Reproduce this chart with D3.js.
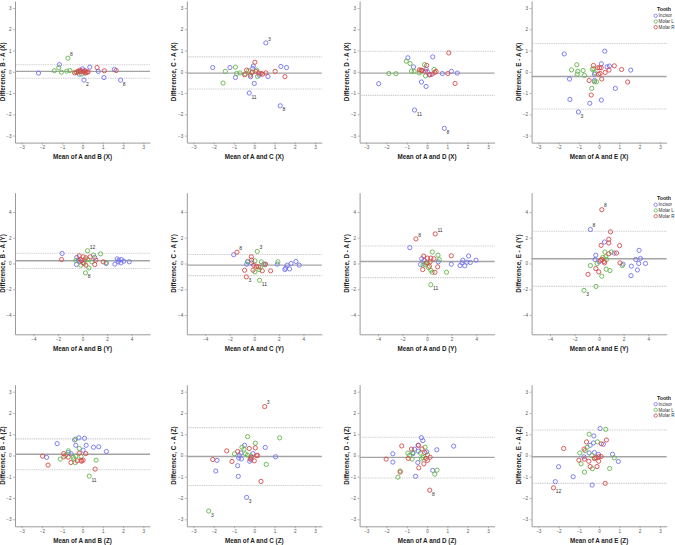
<!DOCTYPE html>
<html><head><meta charset="utf-8">
<script src="https://cdn.jsdelivr.net/npm/d3@7"></script>
<style>body{margin:0;background:#fff}svg{display:block}</style>
</head><body><svg id="c" width="675" height="545"></svg>
<script>
// ---------- DATA ----------
const seriesNames = ["Incisor", "Molar L", "Molar R"];
const ticksSmall = [-3, -2, -1, 0, 1, 2, 3];
const ticksLarge = [-4, -2, 0, 2, 4];

// B - A (X)
const bX_inc = [[-2.17,-0.06],[-1.14,0.34],[0.36,0.22],[0,0.14],[0.07,-0.39,"2"],[-0.16,-0.11],[0.78,0.02],[1.06,-0.27],[1.57,0.11],[1.88,-0.39,"8"],[-0.06,0.05],[0.1,0.04]];
const bX_molL = [[-0.72,0.64,"8"],[-1.17,0.2],[-1.39,0.05],[-1.04,-0.02],[-0.78,0.03],[-0.62,0.06],[-0.33,-0.02],[-0.05,-0.11],[-0.22,0.02],[0.12,-0.06]];
const bX_molR = [[-0.39,-0.05],[-0.13,0.08],[0.03,0],[0.16,-0.05],[0.28,0],[0.72,0.2],[1.08,0.05],[1.66,0.06],[-0.2,0.03],[-0.1,0.01],[0.12,0.05],[-0.28,-0.03],[0.22,-0.02]];
const bX_stats = [0.02, 0.33, -0.3];

// C - A (X)
const cX_inc = [[-2.05,0.2],[-1.2,0.2],[-0.93,-0.27],[0.57,1.36,"3"],[1.31,0.25],[1.59,0.2],[-0.25,-1.0,"11"],[0,-0.55],[1.28,-1.6,"8"],[0.67,-0.22],[-0.08,0.16],[-0.05,0.27],[-0.18,-0.23],[0.25,-0.16]];
const cX_molL = [[-1.43,0.02],[-1.54,-0.53],[-0.93,0.22],[-0.87,-0.08],[-0.7,-0.05],[-0.28,0.05],[-0.14,-0.05],[0.11,0.08],[0.16,-0.22],[-0.44,-0.1]];
const cX_molR = [[0.03,0.45],[-0.38,0.08],[-0.48,-0.14],[-0.2,-0.16],[0.08,0.02],[0.33,-0.08],[0.57,-0.05],[1.03,0.02],[1.51,-0.23],[0.21,-0.05],[0.41,-0.11],[-0.1,-0.02]];
const cX_stats = [-0.06, 0.7, -0.81];

// D - A (X)
const dX_inc = [[-2.39,-0.56],[-0.95,0.66],[-0.67,0.23],[-0.28,-0.48],[-0.05,-0.69],[-0.62,-1.8,"11"],[0.28,0.7],[0.85,-2.66,"8"],[0.75,-0.08],[1.2,0.02],[1.49,-0.06],[-0.05,0.13],[0.02,0],[0.15,-0.14]];
const dX_molL = [[-1.89,-0.08],[-1.54,-0.09],[-1.03,0.5],[-0.84,0.39],[-0.77,0.03],[-0.64,0.02],[-0.39,-0.05],[-0.13,0.34],[-0.08,-0.19],[0.34,0.11],[-0.26,0.05]];
const dX_molR = [[1.07,0.89],[1.02,-0.08],[1.38,-0.55],[-0.38,0.09],[-0.25,0.06],[-0.08,0.02],[-0.02,0.3],[0.11,-0.14],[0.25,-0.11],[0.44,0.02],[0.38,-0.03],[-0.3,0.08]];
const dX_stats = [-0.06, 0.97, -1.11];

// E - A (X)
const eX_inc = [[-1.72,0.84],[-1.46,-0.34],[-1.44,-1.3],[-1.02,-1.89,"3"],[-0.46,-1.48],[-0.23,-0.41],[-0.23,-0.11],[0.11,-1.33],[0.28,0.97],[0.11,0.38],[0.39,0.23],[0.51,0.27],[0.8,-0.78],[1.56,0.08]];
const eX_molL = [[-1.1,0.33],[-1.36,0.09],[-1.05,0.02],[-1.08,-0.11],[-0.79,0.06],[-0.72,-0.17],[-0.33,0.11],[-0.36,-0.78],[-0.2,-0.05],[-0.13,-0.47],[-0.23,-0.47],[-0.26,0.14]];
const eX_molR = [[-0.49,-0.41],[-0.39,-1.09],[-0.28,0.3],[-0.07,0.19],[0.02,0.19],[0.1,0.19],[0.05,-0.08],[0.13,-0.34],[0.3,-0.03],[0.49,0.08],[0.75,0.28],[1.11,0.11],[1.41,-0.48],[-0.03,-0.11]];
const eX_stats = [-0.22, 1.33, -1.75];

// B - A (Y)
const bY_inc = [[-1.66,0.78],[-0.46,0.47],[-0.33,0.26],[-0.49,-0.08],[1.0,0.47],[1.93,0],[2.64,-0.05],[2.83,0.36],[2.91,0.13],[3.16,0.31],[3.13,0.05],[3.37,0.18],[3.81,0.13],[2.97,0.26],[-0.22,0.13]];
const bY_molL = [[0.41,0.99,"12"],[0.9,0.65],[1.47,0.75],[0.76,0.13],[0.24,-0.73,"8"],[0.52,-0.34],[-0.54,0.23],[-0.14,-0.13],[0.13,0.0],[1.93,0.08],[0.19,0.26],[0.41,0.31]];
const bY_molR = [[-1.71,0.31],[-0.27,0.6],[0.05,0.52],[0.27,0.44],[0.63,0.52],[1.09,0.26],[1.0,-0.08],[1.69,0.13],[-0.16,0.31],[0.05,0.05],[0.27,-0.13],[-0.08,0.21]];
const bY_stats = [0.21, 0.8, -0.39];

// C - A (Y)
const cY_inc = [[-1.68,0.68],[-0.62,-0.05],[-0.22,0.05],[0.76,-0.05],[1.87,-0.05],[2.55,-0.36],[2.68,-0.13],[2.87,-0.42],[3.0,0],[3.39,0.16],[3.66,-0.13],[2.49,-0.47],[-0.54,0.13]];
const cY_molL = [[0.24,0.94,"3"],[-0.54,0.16],[0.05,0.21],[0.57,0.13],[1.92,0.13],[0.38,-0.47],[0.49,-0.31],[0.05,-0.65],[0.43,-1.3,"11"],[0.87,-0.1]];
const cY_molR = [[-1.41,0.88,"8"],[-0.24,0.52],[-0.79,-0.52],[-0.65,-1.04,"3"],[-0.11,-0.52],[0.16,-0.21],[0.33,-0.26],[0.65,-0.57],[1.33,-0.57],[0.92,-0.05],[-0.05,-0.13],[-0.22,0.26]];
const cY_stats = [-0.13, 0.7, -0.94];

// D - A (Y)
const dY_inc = [[-1.41,1.23],[-0.44,0.37],[-0.53,-0.08],[-0.25,0.24],[0.91,0.13],[1.97,-0.05],[2.69,-0.16],[2.91,0.26],[3.07,-0.18],[3.24,0.1],[3.38,0.58],[3.52,0.08],[3.99,0.26],[2.85,0.05]];
const dY_molL = [[0.42,0.89],[0.89,0.65],[1.0,0.31],[0.3,-0.52],[0.42,-0.68],[1.58,-0.68],[0.3,-1.65,"11"],[-0.14,-0.1],[0.03,0.05],[0.11,-0.31],[-0.33,-0.13]];
const dY_molR = [[-0.91,1.91,"8"],[0.66,2.3,"11"],[-0.28,0.58],[0.03,0.42],[0.3,0.42],[0.55,0.37],[1.97,0.6],[0.86,-0.26],[-0.36,-0.47],[0.19,-0.21],[0.64,-0.68],[-0.08,0.05],[0.25,0.13]];
const dY_stats = [0.16, 1.36, -1.1];

// E - A (Y)
const eY_inc = [[-0.71,2.64,"8"],[-0.27,0.65],[-0.33,0.31],[0.44,1.67],[1.23,0.81],[1.95,-0.05],[2.63,-0.21],[2.6,-0.94],[2.99,0.31],[3.12,-0.5],[3.23,0],[3.26,1.02],[3.37,0.39],[3.78,0],[0,0.13]];
const eY_molL = [[-1.23,-2.09,"3"],[-0.25,-1.78],[0.22,-0.99],[-0.71,-0.16],[-0.16,0],[0.3,0.47],[0.47,0.89],[0.6,0.31],[0.58,-0.44],[0.88,-0.55],[0.99,0.89],[1.89,-0.16],[0.55,0.52]];
const eY_molR = [[0.22,4.18,"8"],[0.93,2.46],[0.79,1.88],[0.79,1.59],[0.16,1.41],[1.67,1.39],[1.42,0.81],[0.79,0.76],[-0.9,-0.84],[-0.27,-0.39],[-0.03,-0.65],[0.11,0.24],[0.41,0.16],[0.44,0.05],[1.7,0.05],[0.22,0.31]];
const eY_stats = [0.37, 2.51, -1.78];

// B - A (Z)
const bZ_inc = [[-1.25,0.56],[-1.77,-0.09],[-0.39,0.73],[-0.18,0.83],[0.1,0.81],[-0.33,0.48],[0.18,0.48],[0.03,0.25],[0.54,0.39],[0.8,0.41],[1.18,0.19],[-0.56,0.08],[-0.7,0.14]];
const bZ_molL = [[-0.34,0.77],[-0.7,0.22],[-1.1,-0.17],[-0.16,0.33],[-0.46,-0.08],[-0.33,-0.03],[-0.43,-0.16],[-0.36,-0.33],[-0.07,-0.05],[0.67,-0.22],[0.33,-0.97,"11"],[-0.83,0]];
const bZ_molR = [[-1.97,-0.03],[-1.7,-0.45],[-0.93,0.09],[-0.92,-0.06],[-0.7,-0.08],[-0.57,-0.33],[-0.26,-0.25],[-0.16,0.11],[-0.07,-0.22],[0.03,-0.22],[0.16,0.09],[0.62,-0.64],[-0.05,-0.27]];
const bZ_stats = [0.06, 0.78, -0.67];

// C - A (Z)
const cZ_inc = [[-1.84,-0.23],[-1.9,-0.73],[-0.82,-0.48],[-0.79,-0.98],[-0.48,0.48],[-0.66,0.12],[-0.74,0],[-0.64,-0.16],[-0.77,-0.12],[-0.23,-0.27],[-0.38,-1.97,"3"],[-0.07,0.09],[0.54,0.38],[1.05,-0.06],[-0.16,-0.17]];
const cZ_molL = [[-2.25,-2.61,"3"],[-0.98,0.08],[-0.33,0.89],[-0.61,0.39],[-0.44,0.08],[-0.34,0.02],[0.05,0.58],[0.59,-0.42],[1.25,0.83],[-0.51,0.3],[-0.16,-0.02]];
const cZ_molR = [[-2.05,-0.19],[-1.36,0.22],[-1.1,-0.28],[-0.82,0.19],[-0.25,0.33],[-0.15,-0.08],[0,-0.25],[0.05,0.36],[0.11,0],[0.16,0],[0.33,-1.22],[0.51,2.3,"3"],[-0.2,-0.17]];
const cZ_stats = [-0.05, 1.31, -1.41];

// D - A (Z)
const dZ_inc = [[-1.69,0.08],[-1.69,-0.31],[-0.57,-0.98],[-0.44,0.48],[-0.62,0.3],[-0.43,0.2],[-0.28,0.84],[-0.21,0.7],[-0.02,0.17],[0.28,-0.7],[0.48,0.27],[1.31,0.44],[-0.46,-0.33],[-0.7,0.09]];
const dZ_molL = [[-0.95,0.11],[-0.74,-0.17],[-0.7,0.14],[-0.33,0.11],[-0.28,-0.16],[-0.21,-0.09],[-0.1,0.39],[0.02,0.03],[0.38,-0.88],[0.49,-0.69],[-1.33,-0.73],[-1.44,-1.02],[-0.87,0]];
const dZ_molR = [[-2.02,-0.17],[-1.25,0.45],[-1.33,-0.78],[-0.93,-0.14],[-0.77,0.3],[-0.43,0.48],[-0.25,0.31],[-0.41,-0.58],[-0.16,-0.39],[-0.11,0.14],[0.02,-0.23],[0.15,-0.08],[0.13,-1.63,"8"],[-0.05,-0.14]];
const dZ_stats = [-0.09, 0.86, -1.06];

// E - A (Z)
const eZ_inc = [[-2.16,-1.23],[-2.0,-0.53],[-1.28,-1.0],[-0.75,-0.06],[-0.49,0.12],[-0.44,0.48],[-0.26,0.92],[-0.28,0.59],[-0.23,0.14],[-0.34,-1.39],[0.05,1.27],[0.21,0.53],[-0.03,0.05],[0.66,0.06],[0.95,-0.28]];
const eZ_molL = [[-0.49,1.0],[-0.08,0.64],[0.33,1.23],[-0.59,0.39],[-0.69,0.23],[-0.95,0.12],[-0.89,-0.39],[-0.72,-0.78],[-0.33,-0.62],[-0.36,0],[-0.21,-0.12],[0.52,-0.61],[0.75,-0.11]];
const eZ_molR = [[-2.25,-1.52,"12"],[-1.75,0.33],[-1.0,-0.22],[-0.72,-0.17],[-0.74,0.3],[-0.62,0.64],[-0.51,-0.27],[-0.44,-0.52],[-0.23,-0.14],[-0.1,-0.52],[-0.02,-0.27],[-0.02,-0.06],[0.1,-0.05],[0.11,0.55],[0.36,0.73],[0.3,-1.31],[-0.15,-0.1]];
const eZ_stats = [-0.06, 1.2, -1.31];

const methods = ["B", "C", "D", "E"];
const dims = ["X", "Y", "Z"];
const panelSeries = [
  [[bX_inc,bX_molL,bX_molR],[cX_inc,cX_molL,cX_molR],[dX_inc,dX_molL,dX_molR],[eX_inc,eX_molL,eX_molR]],
  [[bY_inc,bY_molL,bY_molR],[cY_inc,cY_molL,cY_molR],[dY_inc,dY_molL,dY_molR],[eY_inc,eY_molL,eY_molR]],
  [[bZ_inc,bZ_molL,bZ_molR],[cZ_inc,cZ_molL,cZ_molR],[dZ_inc,dZ_molL,dZ_molR],[eZ_inc,eZ_molL,eZ_molR]]
];
const panelStats = [
  [bX_stats,cX_stats,dX_stats,eX_stats],
  [bY_stats,cY_stats,dY_stats,eY_stats],
  [bZ_stats,cZ_stats,dZ_stats,eZ_stats]
];

// ---------- LAYOUT / STYLE ----------
const colors = ["#7272f0", "#63b64a", "#d84848"];
const colLeft = [15, 186.8, 359.6, 531.6];
const rowTop = [1, 192.7, 384.7];
const plotW = 135, plotH = 141.6;
const legendTop = [9.3, 198.3, 397.7];
const font = "'Liberation Sans', Arial, sans-serif";
const fmt = d3.format("d");

const svg = d3.select("#c");

dims.forEach((dim, r) => {
  const big = r === 1;
  const dom = big ? [-5.5, 5.5] : [-3.33, 3.33];
  const ticks = big ? ticksLarge : ticksSmall;
  methods.forEach((m, c) => {
    const L = colLeft[c], T = rowTop[r];
    const x = d3.scaleLinear().domain(dom).range([L, L + plotW]);
    const y = d3.scaleLinear().domain(dom).range([T + plotH, T]);
    const g = svg.append("g");

    // axes
    const ax = g.append("g").attr("transform", `translate(0,${T + plotH})`)
      .call(d3.axisBottom(x).tickValues(ticks).tickFormat(fmt).tickSize(2).tickPadding(1.5).tickSizeOuter(0));
    const ay = g.append("g").attr("transform", `translate(${L},0)`)
      .call(d3.axisLeft(y).tickValues(ticks).tickFormat(fmt).tickSize(2).tickPadding(1.5).tickSizeOuter(0));
    [ax, ay].forEach(a => {
      a.select(".domain").attr("stroke", "#9a9a9a").attr("stroke-width", 1);
      a.selectAll(".tick line").attr("stroke", "#9a9a9a").attr("stroke-width", 0.7);
      a.selectAll(".tick text").attr("fill", "#555").attr("font-size", 4.6).attr("font-family", font);
    });

    // reference lines
    const [mean, up, lo] = panelStats[r][c];
    g.append("line").attr("x1", x(dom[0])).attr("x2", x(dom[1]))
      .attr("y1", y(mean)).attr("y2", y(mean))
      .attr("stroke", "#a4a4a4").attr("stroke-width", 1.4);
    [up, lo].forEach(v => g.append("line").attr("x1", x(dom[0]) + 1).attr("x2", x(dom[1]))
      .attr("y1", y(v)).attr("y2", y(v))
      .attr("stroke", "#cacaca").attr("stroke-width", 1.1).attr("stroke-dasharray", "1,0.8"));

    // points
    panelSeries[r][c].forEach((pts, s) => {
      g.append("g").selectAll("circle").data(pts).join("circle")
        .attr("cx", d => x(d[0])).attr("cy", d => y(d[1])).attr("r", 2.1)
        .attr("fill", "none").attr("stroke", colors[s]).attr("stroke-width", 0.9);
      g.append("g").selectAll("text").data(pts.filter(d => d[2])).join("text")
        .attr("x", d => x(d[0]) + 2.2)
        .attr("y", d => d[1] > mean ? y(d[1]) - 2.2 : y(d[1]) + 5.6)
        .attr("font-size", 5).attr("font-family", font).attr("fill", "#333")
        .text(d => d[2]);
    });

    // axis titles
    g.append("text").attr("x", L + plotW / 2).attr("y", T + plotH + 16.2)
      .attr("text-anchor", "middle").attr("font-size", 6.3).attr("font-weight", "bold")
      .attr("font-family", font).attr("fill", "#222")
      .text(`Mean of A and ${m} (${dim})`);
    g.append("text").attr("transform", `translate(${L - 10.5},${T + plotH / 2}) rotate(-90)`)
      .attr("text-anchor", "middle").attr("font-size", 6.3).attr("font-weight", "bold")
      .attr("font-family", font).attr("fill", "#222")
      .text(`Difference, ${m} - A (${dim})`);

    // legend
    if (c === 3) {
      const ly = legendTop[r];
      g.append("text").attr("x", 664).attr("y", ly + 1.8).attr("text-anchor", "middle")
        .attr("font-size", 5.2).attr("font-weight", "bold").attr("font-family", font)
        .attr("fill", "#222").text("Tooth");
      seriesNames.forEach((nm, s) => {
        const yy = ly + 6.5 + s * 5.7;
        g.append("circle").attr("cx", 655.7).attr("cy", yy).attr("r", 1.7)
          .attr("fill", "none").attr("stroke", colors[s]).attr("stroke-width", 0.8);
        g.append("text").attr("x", 658.6).attr("y", yy + 1.6)
          .attr("font-size", 4.6).attr("font-family", font).attr("fill", "#333").text(nm);
      });
    }
  });
});
</script></body></html>
